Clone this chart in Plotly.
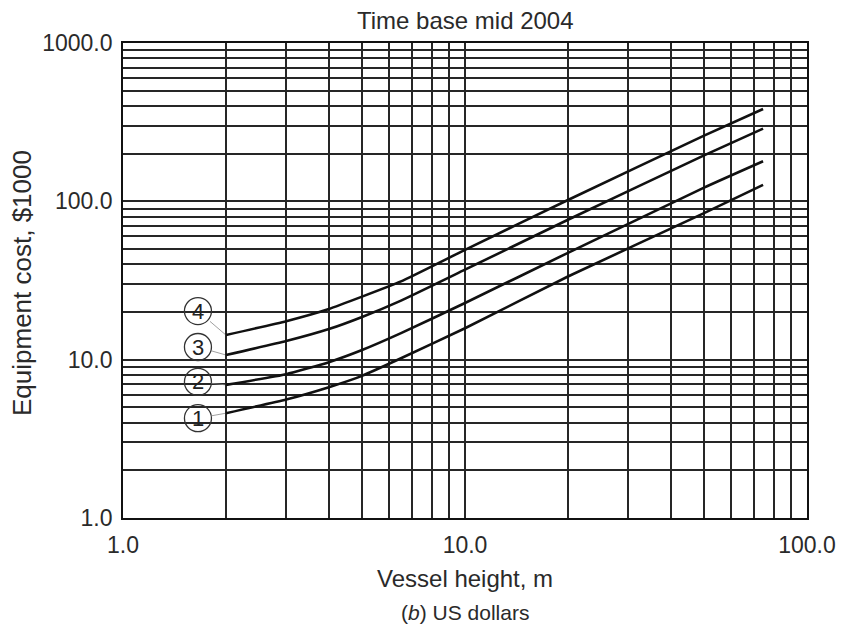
import numpy as np
import plotly.graph_objects as go

# ---- data ----
vessel_height = [2, 3, 4, 5, 6.5, 10, 20, 50, 74.4]
cost_1 = [4.59, 5.6, 6.7, 7.9, 10.2, 15.8, 33.5, 84.3, 127]
cost_2 = [6.93, 8.1, 9.64, 11.5, 14.7, 22.8, 47.3, 122, 179]
cost_3 = [10.7, 13.1, 15.6, 18.6, 23.6, 37.0, 76.5, 195, 288]
cost_4 = [14.3, 17.5, 20.9, 25.0, 31.2, 49.4, 102, 260, 383]
curve_labels = ["1", "2", "3", "4"]

x_grid = [m * 10 ** e for e in range(0, 2) for m in range(1, 10)] + [100]
y_grid = [m * 10 ** e for e in range(0, 3) for m in range(1, 10)] + [1000]
x_labels = {1: "1.0", 10: "10.0", 100: "100.0"}
y_labels = {1: "1.0", 10: "10.0", 100: "100.0", 1000: "1000.0"}

title_text = "Time base mid 2004"
x_title = "Vessel height, m"
y_title = "Equipment cost, $1000"
caption = "(<i>b</i>) US dollars"

# label circle placement (pixel offsets from each curve's first point: dx right, dy up)
label_offsets = [(-28, -5), (-28, 3), (-28, 8), (-28, 24)]

FONT = "Liberation Sans, Arial, sans-serif"
TXT = "#2a2a2a"

PW, PH = 684.0, 475.0   # plot area size in px
X_DEC = PW / 2.0        # px per decade on x
Y_DEC = PH / 3.0        # px per decade on y

fig = go.Figure()
series = [cost_1, cost_2, cost_3, cost_4]
for name, ys in zip(curve_labels, series):
    fig.add_trace(go.Scatter(
        x=vessel_height, y=ys, mode="lines", name=name,
        line=dict(color="#111111", width=2.6, shape="spline", smoothing=0.4),
        showlegend=False, hoverinfo="skip"))

cx, cy = [], []
for name, ys, (dx, dy) in zip(curve_labels, series, label_offsets):
    xa = np.log10(vessel_height[0])
    ya = np.log10(ys[0])
    cx.append(10 ** (xa + dx / X_DEC))
    cy.append(10 ** (ya + dy / Y_DEC))
    fig.add_annotation(x=xa, y=ya, xref="x", yref="y",
                       text=name, showarrow=True, ax=dx, ay=-dy,
                       arrowhead=0, arrowwidth=0.8, arrowcolor="#888888",
                       startstandoff=6, standoff=1,
                       font=dict(family=FONT, size=22, color="#222222"))

fig.add_trace(go.Scatter(
    x=cx, y=cy, mode="markers",
    marker=dict(symbol="circle-open", size=27, color="#333333",
                line=dict(width=1.3, color="#333333")),
    showlegend=False, hoverinfo="skip"))

axis_common = dict(type="log", showgrid=True, gridcolor="#262626", gridwidth=1.5,
                   showline=True, linecolor="#111111", linewidth=1.7, mirror=True,
                   ticks="", zeroline=False,
                   tickfont=dict(family=FONT, size=23, color=TXT))

fig.update_xaxes(range=[0, 2], tickmode="array", tickvals=x_grid,
                 ticktext=[x_labels.get(v, "") for v in x_grid],
                 ticklabelstandoff=6, **axis_common)
fig.update_yaxes(range=[0, 3], tickmode="array", tickvals=y_grid,
                 ticktext=[y_labels.get(v, "") for v in y_grid],
                 ticklabelstandoff=4, **axis_common)

# titles placed as annotations (paper coords); pixel values are relative to the plot box
fig.add_annotation(text=title_text, xref="paper", yref="paper", x=0.5,
                   y=1 + 23 / PH, showarrow=False, yanchor="middle",
                   font=dict(family=FONT, size=24, color=TXT))
fig.add_annotation(text=x_title, xref="paper", yref="paper", x=0.5,
                   y=-60 / PH, showarrow=False, yanchor="middle",
                   font=dict(family=FONT, size=24, color=TXT))
fig.add_annotation(text=caption, xref="paper", yref="paper", x=0.5,
                   y=-94 / PH, showarrow=False, yanchor="middle",
                   font=dict(family=FONT, size=21, color=TXT))
fig.add_annotation(text=y_title, xref="paper", yref="paper",
                   x=-101 / PW, y=235 / PH,
                   textangle=-90, showarrow=False, xanchor="center", yanchor="middle",
                   font=dict(family=FONT, size=26, color=TXT))

fig.update_layout(width=842, height=634,
                  margin=dict(l=123, r=35, t=43, b=116, autoexpand=False),
                  paper_bgcolor="white", plot_bgcolor="white",
                  font=dict(family=FONT, color=TXT))

fig.write_html("out.html",
               config={"displayModeBar": False},
               post_script="document.body.style.margin='0';"
                           "document.body.style.overflow='hidden';")
